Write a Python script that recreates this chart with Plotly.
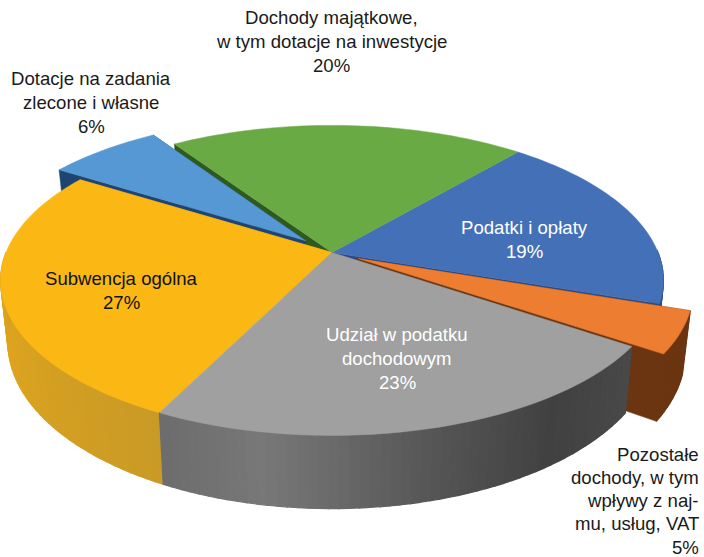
import math
import plotly.graph_objects as go

# Data (sweep of each slice, percent of the circle)
categories = ["Podatki i opłaty", "Pozostałe dochody", "Udział w podatku dochodowym",
              "Subwencja ogólna", "Dotacje na zadania zlecone i własne", "Dochody majątkowe"]
values = [19.0, 4.3, 22.8, 26.6, 6.7, 20.6]
pull = [0, 0.09, 0, 0, 0.115, 0]
top_colors = ["#4470B8", "#ED7D31", "#A0A0A0", "#FBB814", "#5598D3", "#6AAA45"]
wall_colors = ["#2A4A85", "#6A3510", "#4A4A4A", "#C99A25", "#1F4472", "#2F5A1F"]
draw_order = [0, 5, 4, 1, 3, 2]

labels = [
    (["Dochody majątkowe,", "w tym dotacje na inwestycje", "20%"], "#1a1a1a", "center", 331, 17, 24),
    (["Dotacje na zadania", "zlecone i własne", "6%"], "#1a1a1a", "center", 91, 78, 24),
    (["Podatki i opłaty", "19%"], "#ffffff", "center", 524, 227, 24),
    (["Subwencja ogólna", "27%"], "#111111", "center", 121, 278, 24),
    (["Udział w podatku", "dochodowym", "23%"], "#ffffff", "center", 397, 334, 24),
    (["Pozostałe", "dochody, w tym", "wpływy z naj-", "mu, usług, VAT", "5%"], "#1a1a1a", "right", 701, 454, 23.3),
]

# Wall shading stops (angle in degrees, colour)
yellow_stops = [(-212, "#C48C16"), (-165, "#E0A51F"), (-116.3, "#C99A25")]
gray_stops = [(-116.3, "#6C6C6C"), (-100, "#787878"), (-75, "#555555"), (-55, "#414141"), (-33, "#4A4A4A")]

# Projection
CX, CY, R, H, K, D, SHRINK = 332, 252.5, 326, 150, 0.18, 60, 0.978
START = 49.6


def project(u, v, lower, du=0.0, dv=0.0):
    u, v = u + du, v + dv
    z = 1 + K * v
    x = R * u / z
    y = -H * v / z
    if lower:
        return CX + x * SHRINK, CY + y + D / z
    return CX + x, CY + y


def hex_rgb(c):
    return [int(c[i:i + 2], 16) for i in (1, 3, 5)]


def shade(stops, t):
    for (a, ca), (b, cb) in zip(stops, stops[1:]):
        if a <= t <= b:
            f = (t - a) / (b - a)
            ra, rb = hex_rgb(ca), hex_rgb(cb)
            return "rgb({},{},{})".format(*[round(p + (q - p) * f) for p, q in zip(ra, rb)])
    return stops[0][1] if t < stops[0][0] else stops[-1][1]


def poly(fig, pts, color, edge=0.5):
    fig.add_trace(go.Scatter(
        x=[p[0] for p in pts] + [pts[0][0]], y=[p[1] for p in pts] + [pts[0][1]],
        mode="lines", fill="toself", fillcolor=color,
        line=dict(color=color, width=edge, simplify=False),
        hoverinfo="skip", showlegend=False))


fig = go.Figure()

scale = 360 / (sum(values) * 3.6)
ranges = []
a = START
for val in values:
    b = a - val * 3.6 * scale
    ranges.append((a, b))
    a = b

count = len(values)
for i in draw_order:
    a, b = ranges[i]
    mid = math.radians((a + b) / 2)
    du, dv = pull[i] * math.cos(mid), pull[i] * math.sin(mid)
    n = max(4, int(abs(a - b) / 1.5))
    ts = [a + (b - a) * j / n for j in range(n + 1)]
    uv = [(math.cos(math.radians(t)), math.sin(math.radians(t))) for t in ts]
    # radial walls: only where a gap exposes them
    prev_pulled = pull[(i - 1) % count] > 0
    next_pulled = pull[(i + 1) % count] > 0
    if pull[i] > 0 or prev_pulled:
        u, v = uv[0]
        poly(fig, [project(0, 0, False, du, dv), project(u, v, False, du, dv),
                   project(u, v, True, du, dv), project(0, 0, True, du, dv)], wall_colors[i])
    if pull[i] > 0 or next_pulled:
        u, v = uv[-1]
        poly(fig, [project(0, 0, False, du, dv), project(u, v, False, du, dv),
                   project(u, v, True, du, dv), project(0, 0, True, du, dv)], wall_colors[i])
    # outer wall, front half only
    for j in range(n):
        if uv[j][1] > 0 and uv[j + 1][1] > 0:
            continue
        tm = (ts[j] + ts[j + 1]) / 2
        if i == 3:
            col = shade(yellow_stops, tm)
        elif i == 2:
            col = shade(gray_stops, tm)
        else:
            col = wall_colors[i]
        poly(fig, [project(*uv[j], False, du, dv), project(*uv[j + 1], False, du, dv),
                   project(*uv[j + 1], True, du, dv), project(*uv[j], True, du, dv)], col, edge=1.2)
    # top face
    poly(fig, [project(0, 0, False, du, dv)] + [project(u, v, False, du, dv) for u, v in uv], top_colors[i])

annotations = []
for lines, color, align, x, y, step in labels:
    for k, line in enumerate(lines):
        annotations.append(dict(
            x=x, y=y + k * step, text=line, showarrow=False, xanchor=align, yanchor="middle",
            font=dict(family="Liberation Sans, Arial, sans-serif", size=18.6, color=color)))

fig.update_layout(
    width=704, height=557, margin=dict(l=0, r=0, t=0, b=0),
    paper_bgcolor="white", plot_bgcolor="white", showlegend=False,
    xaxis=dict(range=[0, 704], visible=False, fixedrange=True),
    yaxis=dict(range=[557, 0], visible=False, fixedrange=True),
    annotations=annotations)
fig.write_html("out.html", config=dict(displayModeBar=False),
               post_script="document.body.style.margin='0';document.body.style.overflow='hidden';")
